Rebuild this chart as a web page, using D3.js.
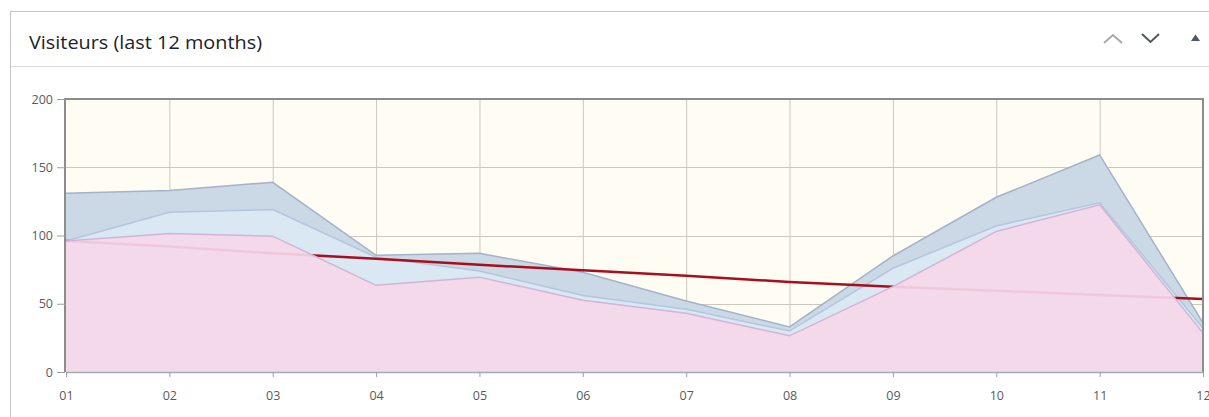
<!DOCTYPE html>
<html>
<head>
<meta charset="utf-8">
<script src="https://cdn.jsdelivr.net/npm/d3@7"></script>
<style>
  body { margin: 0; background: #fff; overflow: hidden; }
  svg { display: block; font-family: "Open Sans", sans-serif; }
</style>
</head>
<body>
<svg id="chart" width="1209" height="417"></svg>
<script>
var months = ['01', '02', '03', '04', '05', '06', '07', '08', '09', '10', '11', '12'];
// three overlapping areas, all from zero
var pagesVues = [131, 133, 139, 85.5, 87, 73, 52, 33, 85, 128, 159, 36];
var visites = [96, 117, 119, 84, 74, 56, 46, 30, 76, 107, 124, 32];
var visiteurs = [96, 101.5, 99.5, 63.5, 69.5, 52.5, 43, 26.5, 62.5, 103, 122.5, 28.5];
// trend line, read point by point
var tendance = [96, 92, 87, 83, 78.5, 74.5, 70.5, 66, 62.5, 59.5, 56.5, 53.5];
var yTicks = [0, 50, 100, 150, 200];

var svg = d3.select('#chart');

// dashboard box + header
svg.append('rect').attr('x', 10.5).attr('y', 11.5).attr('width', 1230).attr('height', 430)
  .attr('fill', '#fff').attr('stroke', '#c3c4c7');
svg.append('line').attr('x1', 11).attr('x2', 1209).attr('y1', 66.5).attr('y2', 66.5)
  .attr('stroke', '#dcdcde');
svg.append('text').attr('x', 29).attr('y', 49).attr('font-size', 18).attr('fill', '#1d2327')
  .attr('textLength', 233).attr('lengthAdjust', 'spacingAndGlyphs')
  .text('Visiteurs (last 12 months)');
svg.append('path').attr('d', 'M1104,43 L1113,35 L1122,43').attr('fill', 'none')
  .attr('stroke', '#a7aaad').attr('stroke-width', 2);
svg.append('path').attr('d', 'M1142,34 L1150.5,42 L1159,34').attr('fill', 'none')
  .attr('stroke', '#50575e').attr('stroke-width', 2);
svg.append('path').attr('d', 'M1191,41 L1195.5,34.5 L1200,41 Z').attr('fill', '#50575e');

var x = d3.scalePoint().domain(months).range([66, 1203]);
var y = d3.scaleLinear().domain([0, 200]).range([372, 99]);

var plot = svg.append('g');
plot.append('rect').attr('x', 66).attr('y', 99).attr('width', 1137).attr('height', 273)
  .attr('fill', '#fffcf4');

// grid
plot.append('g').selectAll('line').data(months.slice(1, -1)).enter().append('line')
  .attr('x1', function(d) { return x(d) + 0.5; }).attr('x2', function(d) { return x(d) + 0.5; })
  .attr('y1', 99).attr('y2', 372).attr('stroke', '#ccc8bf');
plot.append('g').selectAll('line').data([50, 100, 150]).enter().append('line')
  .attr('x1', 66).attr('x2', 1203)
  .attr('y1', function(d) { return Math.round(y(d)) + 0.5; })
  .attr('y2', function(d) { return Math.round(y(d)) + 0.5; })
  .attr('stroke', '#ccc8bf');

function area(vals) {
  return d3.area().x(function(d, i) { return x(months[i]); })
    .y0(y(0)).y1(function(d) { return y(d); })(vals);
}
function line(vals) {
  return d3.line().x(function(d, i) { return x(months[i]); })
    .y(function(d) { return y(d); })(vals);
}

plot.append('path').attr('d', area(pagesVues)).attr('fill', '#cbd8e5');
plot.append('path').attr('d', line(pagesVues)).attr('fill', 'none').attr('stroke', '#a3b3c9').attr('stroke-width', 1.5);
plot.append('path').attr('d', area(visites)).attr('fill', '#dae8f4');
plot.append('path').attr('d', line(visites)).attr('fill', 'none').attr('stroke', '#b4c6de').attr('stroke-width', 1.5);
plot.append('path').attr('d', line(tendance)).attr('fill', 'none').attr('stroke', '#a80e1d').attr('stroke-width', 2.5);
plot.append('path').attr('d', area(visiteurs)).attr('fill', '#f4d7e8').attr('fill-opacity', 0.93);
plot.append('path').attr('d', line(visiteurs)).attr('fill', 'none').attr('stroke', '#d2b4d6').attr('stroke-width', 1.5);

// frame: top, left, right darker
plot.append('path').attr('d', 'M65,372 L65,99 L1203,99 L1203,372').attr('fill', 'none')
  .attr('stroke', '#8c8c8c').attr('stroke-width', 2);

var yAxis = plot.append('g').attr('transform', 'translate(65,0)')
  .call(d3.axisLeft(y).tickValues(yTicks).tickSize(8).tickPadding(4));
yAxis.select('.domain').remove();

var xAxis = plot.append('g').attr('transform', 'translate(0,372)')
  .call(d3.axisBottom(x).tickSize(5).tickPadding(14).tickSizeOuter(0));
xAxis.select('.domain').attr('stroke', '#a4abb8').attr('stroke-width', 1.5);

svg.selectAll('.tick line').attr('stroke', '#a0a0a0');
svg.selectAll('.tick text').attr('fill', '#5a5a5a').attr('font-size', 12.5)
  .attr('font-family', '"Open Sans", sans-serif');
</script>
</body>
</html>
